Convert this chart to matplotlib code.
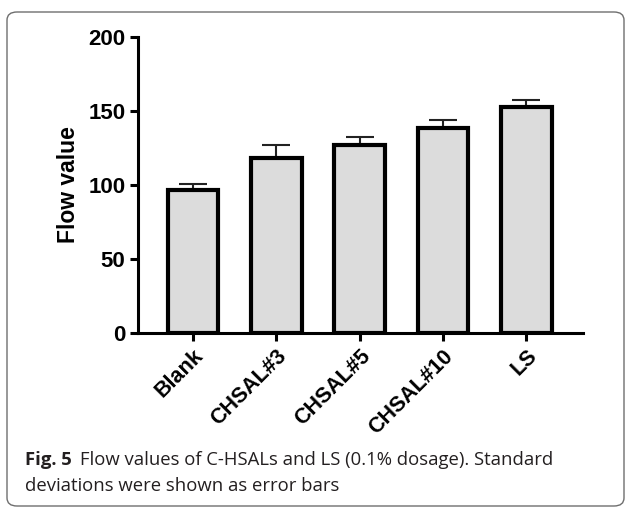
import matplotlib
matplotlib.use("Agg")
import matplotlib.pyplot as plt
from matplotlib.patches import FancyBboxPatch

# values
samples = ["Blank", "CHSAL#3", "CHSAL#5", "CHSAL#10", "LS"]
flow = [96.8, 118.3, 127.3, 138.3, 153.0]
flow_sd = [4.1, 8.6, 5.2, 5.7, 4.1]
y_ticks = [0, 50, 100, 150, 200]

W, H = 627, 507
fig = plt.figure(figsize=(W / 100, H / 100), dpi=100)

# rounded caption frame
frame = FancyBboxPatch((7 / W, 1 - 506 / H), 617 / W, 494 / H,
                       boxstyle="round,pad=0,rounding_size=0.016",
                       transform=fig.transFigure, facecolor="none",
                       edgecolor="#6e6e6e", linewidth=1.0, zorder=-1)
fig.patches.append(frame)

ax = fig.add_axes([138 / W, 1 - 333 / H, (583 - 138) / W, (333 - 37) / H])
ax.patch.set_alpha(0)

x = range(len(samples))
ax.bar(x, flow, width=0.61, color="#dcdcdc", edgecolor="black",
       linewidth=3.0, zorder=3)
ax.errorbar(x, flow, yerr=[[0] * len(flow), flow_sd], fmt="none",
            ecolor="#222222", elinewidth=1.5, capsize=10, capthick=1.5,
            zorder=2)

ax.set_xlim(-0.66, 4.68)
ax.set_ylim(0, 200)
ax.set_yticks(y_ticks)
ax.set_xticks(list(x))

font = "Liberation Sans"
ax.set_yticklabels([str(t) for t in y_ticks], fontsize=16,
                   fontweight="bold", family=font)
ax.set_xticklabels(samples, rotation=45, ha="right", va="top",
                   rotation_mode="anchor", fontsize=15.5, fontweight="bold",
                   family=font)
ax.set_ylabel("Flow value", fontsize=16.5, fontweight="bold", family=font,
              labelpad=6)

for side in ("top", "right"):
    ax.spines[side].set_visible(False)
for side in ("left", "bottom"):
    ax.spines[side].set_linewidth(2.2)
ax.tick_params(axis="both", length=6, width=2.2, pad=3)

# caption
cap_color = "#231f20"
t1 = fig.text(25 / W, 1 - 460 / H, "Fig. 5", fontsize=13.3, fontweight="bold",
              family="Open Sans", color=cap_color, va="center")
fig.canvas.draw()
bb = t1.get_window_extent()
fig.text(bb.x1 / W + 8 / W, 1 - 460 / H,
         "Flow values of C-HSALs and LS (0.1% dosage). Standard",
         fontsize=13.3, family="Open Sans", color=cap_color, va="center")
fig.text(25 / W, 1 - 486 / H, "deviations were shown as error bars",
         fontsize=13.3, family="Open Sans", color=cap_color, va="center")

fig.savefig("out.png", dpi=100)
